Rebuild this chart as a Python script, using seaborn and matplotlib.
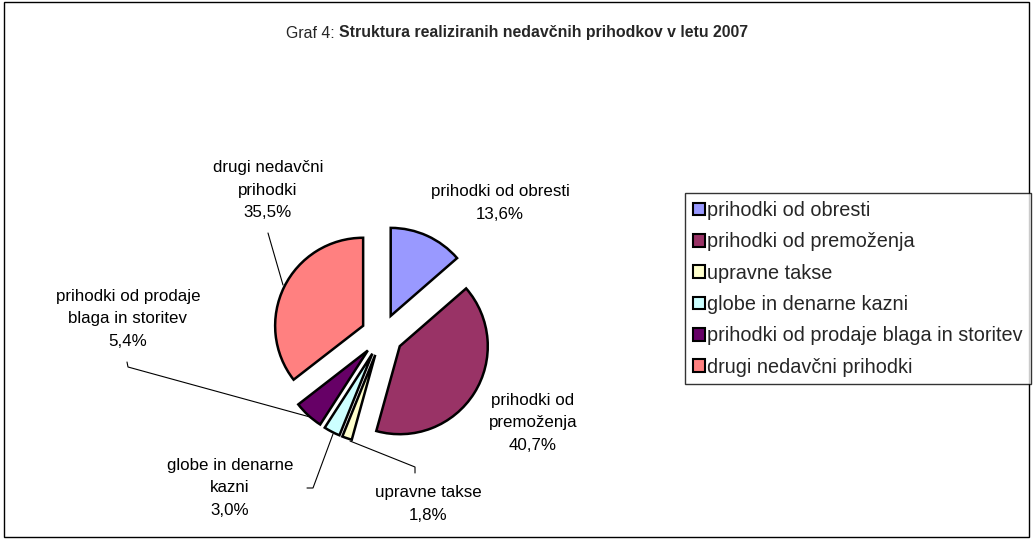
import matplotlib
matplotlib.use("Agg")
import matplotlib.pyplot as plt
import seaborn as sns

categories = ["prihodki od obresti", "prihodki od premoženja", "upravne takse",
              "globe in denarne kazni", "prihodki od prodaje blaga in storitev",
              "drugi nedavčni prihodki"]
values = [13.6, 40.7, 1.8, 3.0, 5.4, 35.5]
label_names = ["prihodki od obresti", "prihodki od\npremoženja", "upravne takse",
               "globe in denarne\nkazni", "prihodki od prodaje\nblaga in storitev",
               "drugi nedavčni\nprihodki"]
colors = ["#9999FF", "#993366", "#FFFFCC", "#CCFFFF", "#660066", "#FF8080"]
title_plain = "Graf 4: "
title_bold = "Struktura realiziranih nedavčnih prihodkov v letu 2007"

sns.set_theme(style="white")
plt.rcParams['font.family'] = ['Liberation Sans', 'DejaVu Sans']

W, H = 1034, 539
fig = plt.figure(figsize=(W / 100, H / 100), dpi=100)
ax = fig.add_axes([0, 0, 1, 1])

def fy(y):
    return H - y

cx, cy, r = 382, 335, 88
wedges, _ = ax.pie(values, colors=colors, startangle=90, counterclock=False,
                   explode=[21] * len(values), radius=r, center=(cx, fy(cy)),
                   wedgeprops=dict(edgecolor="black", linewidth=1.8),
                   frame=True)
ax.set_xlim(0, W)
ax.set_ylim(0, H)
ax.set_aspect("equal")
ax.axis("off")

fs = 12.2
label_pos = [(500, 203), (533, 423), (428, 504), (230, 488), (128, 319), (268, 190)]
for name, v, (lx, ly) in zip(label_names, values, label_pos):
    txt = f"{name}\n{v:.1f}".replace(".", ",") + "%"
    ax.text(lx, fy(ly), txt, ha="center", va="center", fontsize=fs,
            color="black", linespacing=1.6)

leaders = [
    [(268, 233), (270, 240), (283, 285)],
    [(127, 362), (128, 367), (310, 417)],
    [(307, 488), (313, 488), (333, 434)],
    [(350, 441), (415, 467), (415, 473)],
]
for pts in leaders:
    xs = [p[0] for p in pts]
    ys = [fy(p[1]) for p in pts]
    ax.plot(xs, ys, color="black", linewidth=0.8)

# title
fig.canvas.draw()
rend = fig.canvas.get_renderer()
tfs = 11.4
t1 = fig.text(0, 0, title_plain, fontsize=tfs)
t2 = fig.text(0, 0, title_bold, fontsize=tfs, fontweight="bold")
w1 = t1.get_window_extent(rend).width
w2 = t2.get_window_extent(rend).width
x0 = 517 - (w1 + w2) / 2
t1.set_position((x0 / W, fy(33) / H))
t2.set_position(((x0 + w1) / W, fy(33) / H))
t1.set_va("center")
t2.set_va("center")

lfs = 14.3
leg = fig.legend(wedges, categories, loc="upper left",
                 bbox_to_anchor=(685 / W, fy(193) / H), fontsize=lfs,
                 frameon=True, fancybox=False, shadow=False,
                 handlelength=0.6, handleheight=0.6, handletextpad=0.12,
                 labelspacing=0.62, borderpad=0.4, borderaxespad=0)
leg.get_frame().set_edgecolor("black")
leg.get_frame().set_linewidth(1.0)
for h in leg.legend_handles:
    h.set_linewidth(1.5)

fig.patches.append(plt.Rectangle((4 / W, 2 / H), 1025 / W, 535 / H,
                                 transform=fig.transFigure, fill=False,
                                 edgecolor="black", linewidth=1.0))
fig.savefig("out.png", dpi=100, facecolor="white")
